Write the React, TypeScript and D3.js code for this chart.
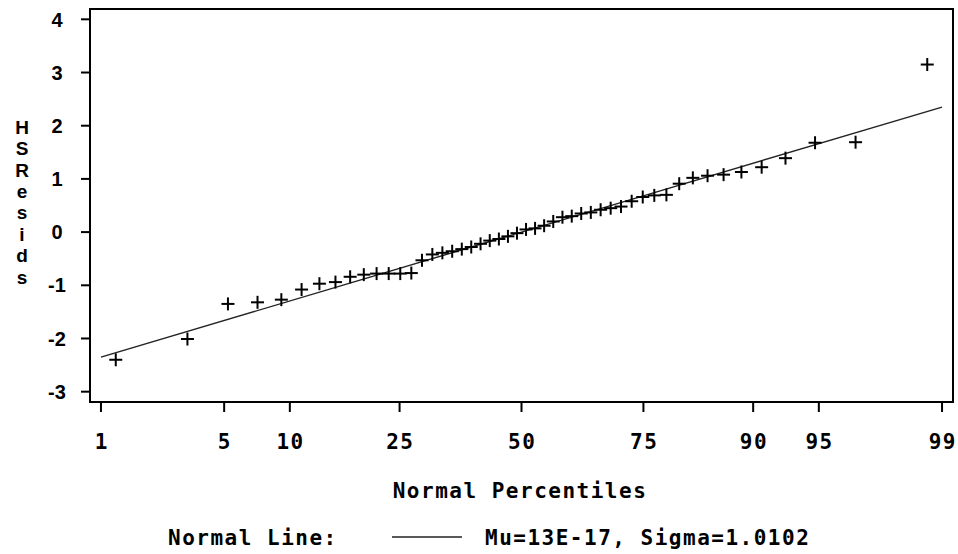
import React from "react";
import * as d3 from "d3";

// Normal percentiles (plotting positions) of the 50 ordered residuals
const percentiles: number[] = [
  1.24, 3.23, 5.22, 7.21, 9.2, 11.19, 13.18, 15.17, 17.16, 19.15,
  21.14, 23.13, 25.12, 27.11, 29.1, 31.09, 33.08, 35.07, 37.06, 39.05,
  41.04, 43.03, 45.02, 47.01, 49.0, 51.0, 52.99, 54.98, 56.97, 58.96,
  60.95, 62.94, 64.93, 66.92, 68.91, 70.9, 72.89, 74.88, 76.87, 78.86,
  80.85, 82.84, 84.83, 86.82, 88.81, 90.8, 92.79, 94.78, 96.77, 98.76,
];

// HSResids values
const residuals: number[] = [
  -2.4, -2.01, -1.35, -1.32, -1.27, -1.08, -0.97, -0.94, -0.84, -0.8,
  -0.78, -0.78, -0.78, -0.77, -0.53, -0.42, -0.39, -0.36, -0.32, -0.28,
  -0.22, -0.16, -0.13, -0.08, -0.02, 0.05, 0.07, 0.12, 0.2, 0.28,
  0.3, 0.35, 0.37, 0.42, 0.45, 0.48, 0.58, 0.66, 0.69, 0.7,
  0.91, 1.02, 1.06, 1.08, 1.13, 1.22, 1.39, 1.68, 1.69, 3.15,
];

const xTicks: number[] = [1, 5, 10, 25, 50, 75, 90, 95, 99];
const yTicks: number[] = [-3, -2, -1, 0, 1, 2, 3, 4];
const lineEnds: number[] = [1, 99];
const mu = 13e-17;
const sigma = 1.0102;
const yTitle = "HSResids";
const xTitle = "Normal Percentiles";
const legendLabel = "Normal Line:";
const legendText = "Mu=13E-17, Sigma=1.0102";

// inverse standard normal CDF (Acklam)
function probit(p: number): number {
  const a = [-3.969683028665376e1, 2.209460984245205e2, -2.759285104469687e2, 1.38357751867269e2, -3.066479806614716e1, 2.506628277459239];
  const b = [-5.447609879822406e1, 1.615858368580409e2, -1.556989798598866e2, 6.680131188771972e1, -1.328068155288572e1];
  const c = [-7.784894002430293e-3, -3.223964580411365e-1, -2.400758277161838, -2.549732539343734, 4.374664141464968, 2.938163982698783];
  const d = [7.784695709041462e-3, 3.224671290700398e-1, 2.445134137142996, 3.754408661907416];
  const pl = 0.02425;
  if (p < pl) {
    const q = Math.sqrt(-2 * Math.log(p));
    return (((((c[0] * q + c[1]) * q + c[2]) * q + c[3]) * q + c[4]) * q + c[5]) / ((((d[0] * q + d[1]) * q + d[2]) * q + d[3]) * q + 1);
  }
  if (p > 1 - pl) {
    const q = Math.sqrt(-2 * Math.log(1 - p));
    return -(((((c[0] * q + c[1]) * q + c[2]) * q + c[3]) * q + c[4]) * q + c[5]) / ((((d[0] * q + d[1]) * q + d[2]) * q + d[3]) * q + 1);
  }
  const q = p - 0.5;
  const r = q * q;
  return ((((((a[0] * r + a[1]) * r + a[2]) * r + a[3]) * r + a[4]) * r + a[5]) * q) / (((((b[0] * r + b[1]) * r + b[2]) * r + b[3]) * r + b[4]) * r + 1);
}

const W = 958;
const H = 554;
const left = 90, right = 953, top = 9, bottom = 402;

const zScale = d3.scaleLinear().domain([-2.387, 2.387]).range([left, right]);
const x = (pct: number) => zScale(probit(pct / 100));
const y = d3.scaleLinear().domain([-3.194, 4.194]).range([bottom, top]);

const monoFont = "'DejaVu Sans Mono', monospace";
const sansFont = "'Liberation Sans', Arial, sans-serif";

export default function App() {
  const lineGen = d3
    .line<number>()
    .x((p) => x(p))
    .y((p) => y(mu + sigma * probit(p / 100)));
  const pts = percentiles.map((p, i) => ({ p, r: residuals[i] }));
  const arm = 6.5;
  return (
    <svg width={W} height={H} style={{ position: "absolute", left: 0, top: 0, background: "#fff" }}>
      <rect x={0} y={0} width={W} height={H} fill="#fff" />
      {/* normal line */}
      <path d={lineGen(lineEnds) || ""} fill="none" stroke="#222" strokeWidth={1.4} />
      {/* points */}
      {pts.map((d, i) => {
        const cx = x(d.p);
        const cy = y(d.r);
        return (
          <g key={i} stroke="#000" strokeWidth={2}>
            <line x1={cx - arm} x2={cx + arm} y1={cy} y2={cy} />
            <line x1={cx} x2={cx} y1={cy - arm} y2={cy + arm} />
          </g>
        );
      })}
      {/* frame */}
      <rect x={left} y={top} width={right - left} height={bottom - top} fill="none" stroke="#000" strokeWidth={2} />
      {/* y ticks */}
      {yTicks.map((t) => (
        <g key={t}>
          <line x1={left - 9} x2={left} y1={y(t)} y2={y(t)} stroke="#000" strokeWidth={2} />
          <text x={57} y={y(t)} dy="0.36em" textAnchor="middle" fontFamily={sansFont} fontWeight="bold" fontSize={20}>
            {String(t)}
          </text>
        </g>
      ))}
      {/* x ticks */}
      {xTicks.map((t) => (
        <g key={t}>
          <line x1={x(t)} x2={x(t)} y1={bottom} y2={bottom + 10} stroke="#000" strokeWidth={2} />
          <text x={x(t) + 0.75} y={449} textAnchor="middle" fontFamily={monoFont} fontWeight="bold" fontSize={21} letterSpacing={1.5}>
            {String(t)}
          </text>
        </g>
      ))}
      {/* y title, stacked letters */}
      {yTitle.split("").map((ch, i) => (
        <text key={i} x={22} y={127 + i * 21.4} dy="0.36em" textAnchor="middle" fontFamily={sansFont} fontWeight="bold" fontSize={19}>
          {ch}
        </text>
      ))}
      {/* x title */}
      <text x={520} y={498} textAnchor="middle" fontFamily={monoFont} fontWeight="bold" fontSize={21} letterSpacing={1.5}>
        {xTitle}
      </text>
      {/* legend */}
      <text x={168} y={545} fontFamily={monoFont} fontWeight="bold" fontSize={21} letterSpacing={1.5}>
        {legendLabel}
      </text>
      <line x1={392} x2={462} y1={537} y2={537} stroke="#222" strokeWidth={1.4} />
      <text x={485} y={545} fontFamily={monoFont} fontWeight="bold" fontSize={21} letterSpacing={1.5}>
        {legendText}
      </text>
    </svg>
  );
}
